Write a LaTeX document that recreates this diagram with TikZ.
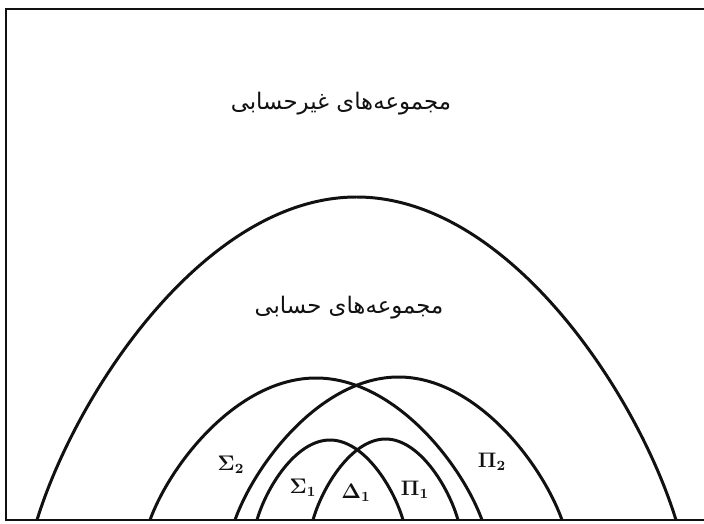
\documentclass[tikz,border=0pt]{standalone}
\usepackage{fontspec}
\usepackage{tikz}
\usetikzlibrary{calc}
\newfontfamily\arabicfont[Script=Arabic]{DejaVu Sans}
\TeXXeTstate=1
\definecolor{SetInk}{HTML}{111111}
\tikzset{
  archline/.style={SetInk,line width=1.7pt},
  frameline/.style={SetInk,line width=1.1pt},
  setname/.style={text=SetInk,font=\arabicfont\fontsize{13}{15}\selectfont},
  classname/.style={text=SetInk,font=\large\boldmath}
}
% arch standing on the base line: left foot, right foot, top
\newcommand{\drawarch}[3]{%
  \pgfmathsetmacro\archw{(#2-#1)/2}\pgfmathsetmacro\archh{520-#3}
  \draw[archline] (#1,520) .. controls +(0.125*\archw,-0.4*\archh) and +(-0.47*\archw,0) .. (#1+\archw,#3)
    .. controls +(0.47*\archw,0) and +(-0.125*\archw,-0.4*\archh) .. (#2,520);}

\begin{document}
\begin{tikzpicture}[x=0.02cm,y=-0.02cm]
\useasboundingbox (0,0) rectangle (704,524);
\draw[frameline] (704,9) -- (6,9) -- (6,520) -- (704,520);
\drawarch{37}{676}{197}
\drawarch{150}{482}{378}
\drawarch{235}{562}{377}
\drawarch{257}{403}{440}
\drawarch{313}{458}{439}
\node[setname] (nonarith) at (341,104) {\beginR مجموعه‌های غیرحسابی\endR};
\node[setname] (arith) at (349,308) {\beginR مجموعه‌های حسابی\endR};
\node[classname] (sigtwo) at (231,465) {$\Sigma_2$};
\node[classname] (pitwo) at (492,462) {$\Pi_2$};
\node[classname] (sigone) at (303,488) {$\Sigma_1$};
\node[classname] (delone) at (356,493) {$\Delta_1$};
\node[classname] (pione) at (415,490) {$\Pi_1$};
\end{tikzpicture}
\end{document}
